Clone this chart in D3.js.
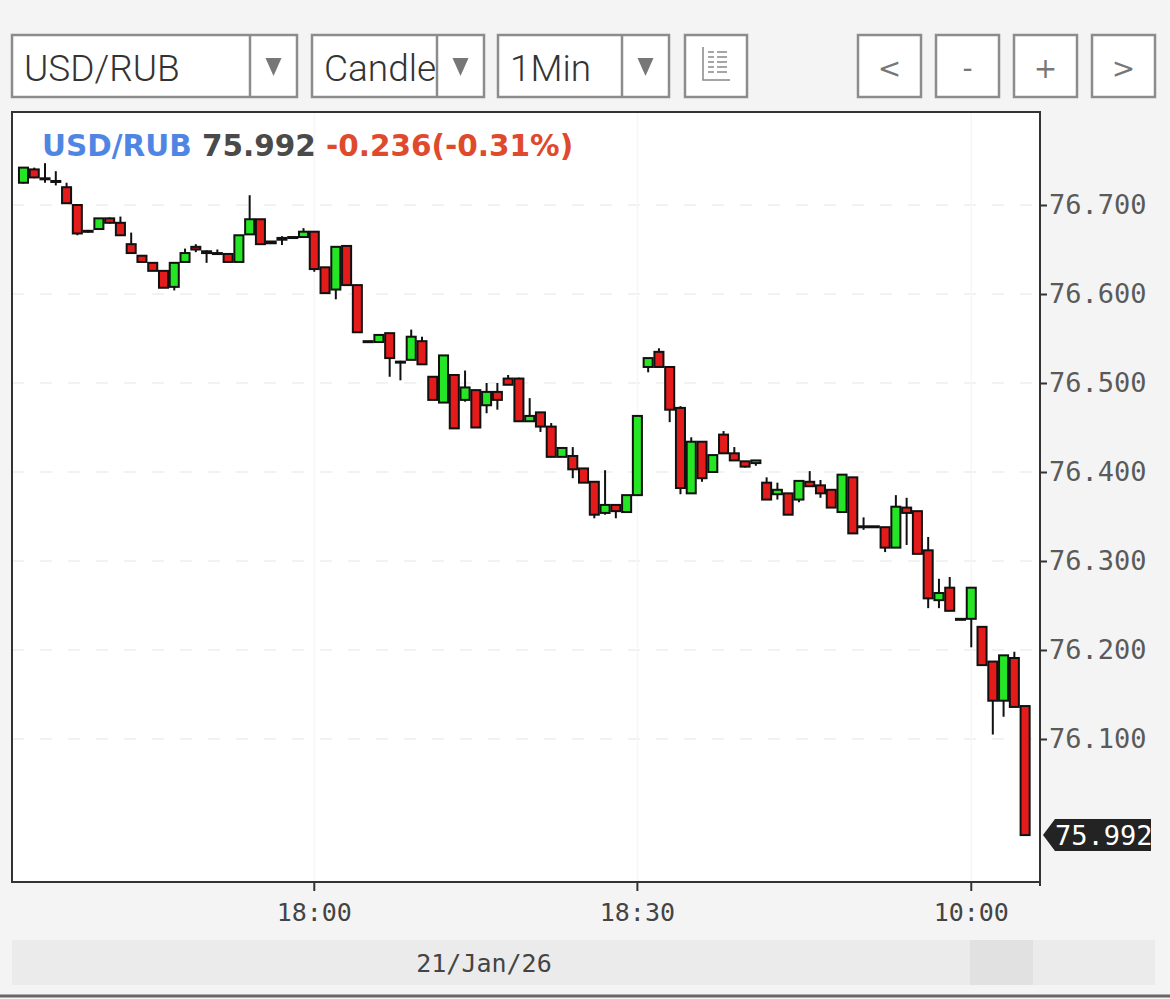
<!DOCTYPE html>
<html><head><meta charset="utf-8">
<script src="https://cdn.jsdelivr.net/npm/d3@7"></script>
<style>html,body{margin:0;padding:0;background:#f4f4f4;}svg{display:block;}</style>
</head><body>
<script>
// ---------- DATA ----------
const times = ["17:33","17:34","17:35","17:36","17:37","17:38","17:39","17:40","17:41","17:42",
"17:43","17:44","17:45","17:46","17:47","17:48","17:49","17:50","17:51","17:52",
"17:53","17:54","17:55","17:56","17:57","17:58","17:59","18:00","18:01","18:02",
"18:03","18:04","18:05","18:06","18:07","18:08","18:09","18:10","18:11","18:12",
"18:13","18:14","18:15","18:16","18:17","18:18","18:19","18:20","18:21","18:22",
"18:23","18:24","18:25","18:26","18:27","18:28","18:29","18:30","18:31","18:32",
"18:33","18:34","18:35","18:36","18:37","18:38","18:39","18:40","18:41","18:42",
"18:43","18:44","18:45","18:46","18:47","18:48","18:49","18:50","18:51","18:52",
"18:53","18:54","18:55","18:56","18:57","18:58","18:59","19:00","10:00","10:01",
"10:02","10:03","10:04","10:05"];
const open = [76.725,76.740,76.730,76.727,76.720,76.700,76.671,76.673,76.685,76.680,
76.656,76.643,76.635,76.626,76.608,76.636,76.653,76.648,76.646,76.645,
76.636,76.667,76.684,76.659,76.661,76.664,76.664,76.670,76.630,76.605,
76.654,76.610,76.547,76.546,76.556,76.524,76.526,76.547,76.507,76.478,
76.509,76.481,76.492,76.475,76.490,76.505,76.505,76.457,76.467,76.451,
76.417,76.418,76.404,76.389,76.354,76.363,76.355,76.374,76.518,76.535,
76.518,76.472,76.376,76.434,76.400,76.442,76.421,76.412,76.410,76.388,
76.375,76.376,76.369,76.389,76.385,76.380,76.355,76.394,76.339,76.339,
76.338,76.315,76.360,76.356,76.312,76.256,76.270,76.235,76.235,76.226,
76.187,76.143,76.191,76.137];
const high = [76.742,76.742,76.747,76.738,76.725,76.700,76.672,76.685,76.686,76.687,
76.669,76.643,76.635,76.626,76.635,76.651,76.656,76.649,76.650,76.645,
76.666,76.711,76.684,76.659,76.665,76.664,76.674,76.670,76.630,76.653,
76.654,76.610,76.547,76.554,76.556,76.525,76.560,76.552,76.507,76.531,
76.509,76.514,76.492,76.500,76.500,76.509,76.506,76.483,76.467,76.455,
76.427,76.428,76.404,76.389,76.402,76.363,76.374,76.463,76.528,76.539,
76.518,76.474,76.439,76.434,76.419,76.446,76.428,76.412,76.413,76.394,
76.388,76.376,76.390,76.401,76.391,76.380,76.397,76.394,76.349,76.339,
76.338,76.374,76.371,76.356,76.327,76.280,76.282,76.235,76.270,76.226,
76.187,76.194,76.198,76.137];
const low = [76.724,76.730,76.725,76.722,76.702,76.666,76.669,76.672,76.679,76.666,
76.646,76.636,76.626,76.607,76.604,76.636,76.647,76.635,76.645,76.636,
76.636,76.667,76.656,76.657,76.655,76.664,76.664,76.625,76.601,76.594,
76.610,76.557,76.546,76.546,76.507,76.503,76.526,76.521,76.481,76.478,
76.449,76.479,76.450,76.466,76.470,76.498,76.457,76.457,76.445,76.417,
76.417,76.393,76.388,76.348,76.352,76.348,76.354,76.374,76.512,76.518,
76.456,76.375,76.376,76.389,76.400,76.421,76.413,76.405,76.407,76.369,
76.369,76.352,76.366,76.384,76.371,76.360,76.355,76.331,76.335,76.339,
76.310,76.315,76.318,76.308,76.247,76.247,76.244,76.235,76.203,76.183,
76.105,76.125,76.136,75.992];
const close = [76.742,76.731,76.729,76.726,76.702,76.668,76.670,76.685,76.680,76.666,
76.646,76.636,76.626,76.607,76.635,76.646,76.650,76.646,76.646,76.636,
76.666,76.684,76.656,76.657,76.663,76.664,76.670,76.628,76.601,76.653,
76.610,76.557,76.546,76.554,76.528,76.524,76.552,76.521,76.481,76.531,
76.449,76.495,76.450,76.490,76.481,76.498,76.457,76.463,76.451,76.417,
76.427,76.403,76.388,76.352,76.363,76.356,76.374,76.463,76.528,76.518,
76.470,76.382,76.434,76.393,76.419,76.421,76.413,76.406,76.413,76.369,
76.380,76.352,76.390,76.384,76.376,76.360,76.397,76.331,76.339,76.339,
76.315,76.361,76.354,76.308,76.258,76.264,76.244,76.235,76.270,76.183,
76.143,76.194,76.136,75.992];
const yDomain = [75.9393, 76.8045];
const yTicks = [76.1, 76.2, 76.3, 76.4, 76.5, 76.6, 76.7];
const xTicks = ["18:00", "18:30", "10:00"];
const symbol = "USD/RUB";
const lastPrice = "75.992";
const change = "-0.236(-0.31%)";
const dateLabel = "21/Jan/26";
const chartType = "Candle";
const interval = "1Min";
const navButtons = ["<", "-", "+", ">"];

// ---------- LAYOUT ----------
const W = 1170, H = 999;
const P = {l: 12, r: 1040, t: 112, b: 882};
const UP = "#24e624", DOWN = "#e31b1b", INK = "#111";

const svg = d3.select("body").append("svg").attr("width", W).attr("height", H);
svg.append("rect").attr("width", W).attr("height", H).attr("fill", "#f4f4f4");

// ---------- toolbar ----------
const tb = svg.append("g");
function box(x, w){
  tb.append("rect").attr("x", x).attr("y", 35).attr("width", w).attr("height", 62)
    .attr("fill", "#fff").attr("stroke", "#8c8c8c").attr("stroke-width", 2.5);
}
function arrow(cx){
  tb.append("path").attr("d", `M${cx-8},58 L${cx+8},58 L${cx},76 Z`).attr("fill", "#777");
}
const dd = [{x:12,w:285,sep:250,label:symbol},{x:312,w:172,sep:437,label:chartType},{x:498,w:171,sep:622,label:interval}];
dd.forEach((d,i)=>{
  box(d.x, d.w);
  const cp = svg.append("clipPath").attr("id","cp"+i);
  cp.append("rect").attr("x", d.x).attr("y", 35).attr("width", d.sep - d.x).attr("height", 62);
  tb.append("text").attr("x", d.x + 12).attr("y", 81).attr("clip-path", `url(#cp${i})`)
    .attr("font-family", "Roboto, 'Noto Sans', sans-serif").attr("font-size", 37).attr("font-weight", 300)
    .attr("fill", "#333").text(d.label);
  tb.append("line").attr("x1", d.sep).attr("x2", d.sep).attr("y1", 35).attr("y2", 97)
    .attr("stroke", "#8c8c8c").attr("stroke-width", 2.5);
  arrow((d.sep + d.x + d.w)/2);
});
box(685, 62);
// small chart-settings icon
const ic = tb.append("g").attr("stroke", "#888").attr("stroke-width", 1.5).attr("fill", "none");
ic.append("path").attr("d", "M703,47 L703,80 L730,80");
[52,57,62,67,72].forEach(y=>{
  ic.append("line").attr("x1", 708).attr("x2", 714).attr("y1", y).attr("y2", y);
  ic.append("line").attr("x1", 717).attr("x2", 727).attr("y1", y).attr("y2", y);
});
const bx = [858, 936, 1014, 1092];
navButtons.forEach((b,i)=>{
  box(bx[i], 63);
  tb.append("text").attr("x", bx[i] + 31.5).attr("y", 78).attr("text-anchor", "middle")
    .attr("font-family", "'DejaVu Sans', sans-serif").attr("font-size", 28).attr("fill", "#777").text(b);
});

// ---------- scales ----------
const x = d3.scaleBand().domain(times).range([18.1, 1030.5]).padding(0);
const y = d3.scaleLinear().domain(yDomain).range([P.b, P.t]);

// ---------- plot area ----------
svg.append("rect").attr("x", P.l).attr("y", P.t).attr("width", P.r - P.l).attr("height", P.b - P.t)
  .attr("fill", "#fff");

// grid (very faint)
const grid = svg.append("g");
yTicks.forEach(v=>{
  grid.append("line").attr("x1", P.l).attr("x2", P.r).attr("y1", y(v)).attr("y2", y(v))
    .attr("stroke", "#eeeeee").attr("stroke-width", 1.5).attr("stroke-dasharray", "12,16");
});
xTicks.forEach(t=>{
  const cx = x(t) + x.bandwidth()/2;
  grid.append("line").attr("x1", cx).attr("x2", cx).attr("y1", P.t).attr("y2", P.b)
    .attr("stroke", "#f6f6f6").attr("stroke-width", 1.5);
});

// candles
svg.append("clipPath").attr("id", "plotclip").append("rect")
  .attr("x", P.l).attr("y", P.t).attr("width", P.r - P.l).attr("height", P.b - P.t);
const data = times.map((t,i)=>({t, o: open[i], h: high[i], l: low[i], c: close[i]}));
const cg = svg.append("g").attr("clip-path", "url(#plotclip)");
const bw = x.bandwidth() * 0.84;
cg.selectAll("line.wick").data(data).join("line").attr("class", "wick")
  .attr("x1", d=>x(d.t) + x.bandwidth()/2).attr("x2", d=>x(d.t) + x.bandwidth()/2)
  .attr("y1", d=>y(d.h)).attr("y2", d=>y(d.l))
  .attr("stroke", INK).attr("stroke-width", 2);
cg.selectAll("rect.body").data(data).join("rect").attr("class", "body")
  .attr("x", d=>x(d.t) + (x.bandwidth() - bw)/2)
  .attr("width", bw)
  .attr("y", d=>y(Math.max(d.o, d.c)))
  .attr("height", d=>Math.max(1, Math.abs(y(d.o) - y(d.c))))
  .attr("fill", d=>d.c >= d.o ? UP : DOWN)
  .attr("stroke", INK).attr("stroke-width", 2);

// frame
svg.append("path").attr("d", `M${P.r},${P.t} L${P.l},${P.t} L${P.l},${P.b} L${P.r},${P.b}`)
  .attr("fill", "none").attr("stroke", "#333").attr("stroke-width", 2);

// header
const hd = svg.append("text").attr("x", 42).attr("y", 156)
  .attr("font-family", "'DejaVu Sans', sans-serif").attr("font-size", 29.5).attr("font-weight", "bold");
hd.append("tspan").attr("fill", "#4f86e3").text(symbol);
hd.append("tspan").attr("fill", "#4a4a4a").text(" " + lastPrice);
hd.append("tspan").attr("fill", "#df4a2d").text(" " + change);

// ---------- y axis ----------
const ya = svg.append("g").attr("transform", `translate(${P.r},0)`)
  .call(d3.axisRight(y).tickValues(yTicks).tickFormat(d3.format(".3f")).tickSize(7).tickPadding(2));
ya.select(".domain").remove();
ya.selectAll(".tick line").attr("stroke", "#333").attr("stroke-width", 2);
ya.selectAll(".tick text").attr("font-family", "'DejaVu Sans Mono', monospace").attr("font-size", 27)
  .attr("fill", "#5a5a5a");
svg.append("line").attr("x1", P.r).attr("x2", P.r).attr("y1", P.t - 1).attr("y2", P.b + 4)
  .attr("stroke", "#333").attr("stroke-width", 2);

// last price marker
const ly = y(close[close.length - 1]);
svg.append("path").attr("d", `M1043,${ly} L1055,${ly-16} L1151,${ly-16} L1151,${ly+16} L1055,${ly+16} Z`)
  .attr("fill", "#232323");
svg.append("text").attr("x", 1055).attr("y", ly).attr("dy", "0.35em")
  .attr("font-family", "'DejaVu Sans Mono', monospace").attr("font-size", 27).attr("fill", "#fff").text(lastPrice);

// ---------- x axis ----------
const xa = svg.append("g").attr("transform", `translate(0,${P.b})`)
  .call(d3.axisBottom(x).tickValues(xTicks).tickSize(9).tickPadding(12));
xa.select(".domain").remove();
xa.selectAll(".tick line").attr("stroke", "#333").attr("stroke-width", 2);
xa.selectAll(".tick text").attr("font-family", "'DejaVu Sans Mono', monospace").attr("font-size", 25)
  .attr("fill", "#444");

// date bar
svg.append("rect").attr("x", 12).attr("y", 940).attr("width", 1143).attr("height", 45).attr("fill", "#ebebeb");
svg.append("rect").attr("x", 970).attr("y", 940).attr("width", 63).attr("height", 45).attr("fill", "#e1e1e1");
svg.append("text").attr("x", 484).attr("y", 972).attr("text-anchor", "middle")
  .attr("font-family", "'DejaVu Sans Mono', monospace").attr("font-size", 25).attr("fill", "#444").text(dateLabel);
svg.append("line").attr("x1", 0).attr("x2", W).attr("y1", 996).attr("y2", 996)
  .attr("stroke", "#666").attr("stroke-width", 3);
</script>
</body></html>
